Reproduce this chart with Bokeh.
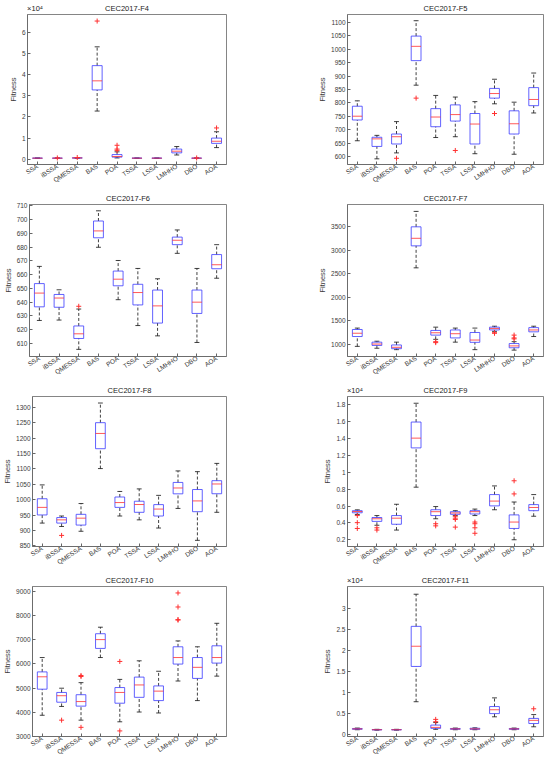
from bokeh.plotting import figure
from bokeh.layouts import column, row
from bokeh.models import FixedTicker, NumeralTickFormatter, LinearAxis, ColumnDataSource
from bokeh.embed import file_html
from bokeh.resources import INLINE

algorithms = ["SSA", "iBSSA", "QMESSA", "BAS", "POA", "TSSA", "LSSA", "LMHHO", "DBO", "AOA"]

# ---------------- F4 (x10^4) ----------------
F4_lo  = [0.045, 0.045, 0.05, 2.28, 0.06, 0.045, 0.045, 0.20, 0.045, 0.55]
F4_q1  = [0.048, 0.048, 0.055, 3.28, 0.10, 0.048, 0.048, 0.30, 0.048, 0.75]
F4_med = [0.05, 0.05, 0.06, 3.71, 0.13, 0.05, 0.05, 0.38, 0.05, 0.85]
F4_q3  = [0.052, 0.052, 0.065, 4.43, 0.22, 0.052, 0.052, 0.48, 0.052, 1.00]
F4_hi  = [0.055, 0.055, 0.07, 5.32, 0.35, 0.055, 0.055, 0.60, 0.055, 1.30]
F4_out = [[], [0.06], [0.08], [6.54], [0.42, 0.48, 0.66], [], [], [], [0.06], [1.48]]
F4_ticks = [0, 1, 2, 3, 4, 5, 6]

# ---------------- F5 ----------------
F5_lo  = [660, 593, 615, 866, 672, 675, 612, 797, 610, 763]
F5_q1  = [737, 639, 648, 957, 712, 733, 648, 818, 685, 790]
F5_med = [751, 667, 675, 1010, 748, 757, 722, 835, 723, 813]
F5_q3  = [788, 673, 685, 1048, 779, 793, 761, 854, 771, 857]
F5_hi  = [808, 680, 731, 1105, 828, 822, 805, 888, 803, 911]
F5_out = [[], [], [595], [818], [], [624], [], [761], [], []]
F5_ticks = [600, 650, 700, 750, 800, 850, 900, 950, 1000, 1050, 1100]

# ---------------- F6 ----------------
F6_lo  = [626.7, 627, 605.7, 679.9, 641.8, 623, 615.5, 675.5, 610.7, 657.4]
F6_q1  = [636.6, 636.3, 613.6, 686.8, 651.9, 638, 624.8, 681.8, 631.8, 664.3]
F6_med = [646.6, 643, 617, 691.8, 656.7, 647, 637.3, 685, 640, 667.2]
F6_q3  = [653.5, 645.6, 622.7, 699, 662.6, 653, 648.8, 687.3, 648.8, 674.6]
F6_hi  = [666, 649, 635, 706.4, 670.3, 664.5, 657, 692.5, 664.5, 681.8]
F6_out = [[], [], [637], [], [], [], [], [], [], []]
F6_ticks = [610, 620, 630, 640, 650, 660, 670, 680, 690, 700, 710]

# ---------------- F7 ----------------
F7_lo  = [950, 910, 880, 2625, 1100, 1040, 880, 1270, 870, 1160]
F7_q1  = [1160, 970, 900, 3094, 1190, 1130, 1036, 1300, 920, 1260]
F7_med = [1230, 1000, 930, 3255, 1240, 1220, 1085, 1330, 960, 1300]
F7_q3  = [1310, 1040, 980, 3500, 1290, 1300, 1246, 1360, 1010, 1350]
F7_hi  = [1340, 1060, 1040, 3829, 1360, 1340, 1340, 1380, 1050, 1380]
F7_out = [[], [], [], [], [1050, 1030], [], [], [1230, 1240], [1110, 1130, 1190], []]
F7_ticks = [1000, 1500, 2000, 2500, 3000, 3500]

# ---------------- F8 ----------------
F8_lo  = [924, 913, 897.5, 1101, 947, 934.5, 908, 971.6, 868, 959]
F8_q1  = [950.4, 924, 917.6, 1165.5, 975, 959, 947, 1019, 961, 1019.3]
F8_med = [975, 934.5, 940, 1215, 990.7, 984.3, 969.5, 1038, 996, 1051]
F8_q3  = [1003, 942, 952.5, 1250, 1008.7, 995, 984, 1056, 1033, 1061.7]
F8_hi  = [1048, 947, 987.5, 1313.8, 1026.7, 1035, 1014, 1093.4, 1091, 1117.8]
F8_out = [[], [884], [], [], [], [], [], [], [], []]
F8_ticks = [850, 900, 950, 1000, 1050, 1100, 1150, 1200, 1250, 1300]

# ---------------- F9 (x10^4) ----------------
F9_lo  = [0.50, 0.372, 0.315, 0.824, 0.449, 0.487, 0.487, 0.556, 0.20, 0.479]
F9_q1  = [0.52, 0.418, 0.384, 1.29, 0.487, 0.502, 0.506, 0.602, 0.334, 0.545]
F9_med = [0.535, 0.449, 0.456, 1.406, 0.533, 0.518, 0.533, 0.659, 0.41, 0.583]
F9_q3  = [0.545, 0.464, 0.487, 1.597, 0.556, 0.533, 0.545, 0.736, 0.495, 0.617]
F9_hi  = [0.555, 0.487, 0.621, 1.82, 0.594, 0.545, 0.564, 0.839, 0.648, 0.736]
F9_out = [[0.487, 0.403, 0.334], [0.342, 0.315], [], [], [0.39, 0.365],
          [0.479, 0.456, 0.441, 0.35], [0.41, 0.39, 0.342, 0.277], [], [0.744, 0.9], []]
F9_ticks = [0.2, 0.4, 0.6, 0.8, 1.0, 1.2, 1.4, 1.6, 1.8]

# ---------------- F10 ----------------
F10_lo  = [3878, 4242, 3675, 6264, 3608, 4012, 3972, 5293, 4484, 5495]
F10_q1  = [4956, 4417, 4255, 6641, 4376, 4619, 4484, 5994, 5401, 6034]
F10_med = [5468, 4686, 4444, 7005, 4821, 5131, 4875, 6264, 5859, 6264]
F10_q3  = [5670, 4821, 4727, 7248, 5023, 5455, 5091, 6708, 6264, 6749]
F10_hi  = [6264, 4996, 5226, 7517, 5360, 6129, 5697, 6951, 6708, 7679]
F10_out = [[], [3675], [5522, 5480, 3379], [], [6102, 3231], [], [],
           [7814, 7830, 8353, 8933], [], []]
F10_ticks = [3000, 4000, 5000, 6000, 7000, 8000, 9000]

# ---------------- F11 (x10^4) ----------------
F11_lo  = [0.12, 0.11, 0.11, 0.783, 0.13, 0.12, 0.12, 0.426, 0.12, 0.19]
F11_q1  = [0.13, 0.115, 0.115, 1.618, 0.153, 0.13, 0.13, 0.502, 0.13, 0.267]
F11_med = [0.14, 0.12, 0.12, 2.096, 0.176, 0.14, 0.14, 0.593, 0.14, 0.342]
F11_q3  = [0.15, 0.125, 0.125, 2.567, 0.23, 0.15, 0.155, 0.669, 0.15, 0.388]
F11_hi  = [0.16, 0.13, 0.13, 3.327, 0.29, 0.16, 0.165, 0.874, 0.16, 0.479]
F11_out = [[], [], [], [], [0.31, 0.365], [], [], [], [], [0.616]]
F11_ticks = [0, 0.5, 1, 1.5, 2, 2.5, 3]

FONT = "Liberation Sans"
TXT = "#3a3a3a"
EDGE = "#666666"


def make_panel(title, lo, q1, med, q3, hi, out, ticks, yr, fmt, width, height,
               bl, br, bt, bb, exponent=None):
    p = figure(width=width, height=height, x_range=(0.5, 10.5), y_range=yr,
               output_backend="svg", toolbar_location=None,
               min_border_left=bl, min_border_right=br,
               min_border_top=bt, min_border_bottom=bb)
    p.xgrid.visible = False
    p.ygrid.visible = False
    p.outline_line_color = EDGE
    p.outline_line_width = 0.8
    p.background_fill_color = "white"
    p.border_fill_color = "white"

    xs = list(range(1, len(algorithms) + 1))
    src = ColumnDataSource(dict(
        x=xs, lo=lo, q1=q1, med=med, q3=q3, hi=hi,
        left=[x - 0.25 for x in xs], right=[x + 0.25 for x in xs],
        cl=[x - 0.125 for x in xs], cr=[x + 0.125 for x in xs],
    ))
    # whiskers
    p.segment(x0="x", y0="q3", x1="x", y1="hi", source=src, line_color="#111111",
              line_width=0.8, line_dash="3 2")
    p.segment(x0="x", y0="lo", x1="x", y1="q1", source=src, line_color="#111111",
              line_width=0.8, line_dash="3 2")
    # caps
    p.segment(x0="cl", y0="hi", x1="cr", y1="hi", source=src, line_color="#111111", line_width=0.8)
    p.segment(x0="cl", y0="lo", x1="cr", y1="lo", source=src, line_color="#111111", line_width=0.8)
    # boxes
    p.quad(left="left", right="right", bottom="q1", top="q3", source=src,
           fill_color=None, line_color="#3a3aff", line_width=0.8)
    # medians
    p.segment(x0="left", y0="med", x1="right", y1="med", source=src,
              line_color="#ff3030", line_width=0.8)
    # outliers
    ox, oy = [], []
    for i, vals in enumerate(out):
        for v in vals:
            ox.append(xs[i])
            oy.append(v)
    if ox:
        p.scatter(x=ox, y=oy, marker="cross", size=5, line_color="#ff3030", line_width=1)

    # axes
    p.xaxis.ticker = FixedTicker(ticks=xs)
    p.xaxis.major_label_overrides = {x: a for x, a in zip(xs, algorithms)}
    p.xaxis.major_label_orientation = 0.57
    p.yaxis.ticker = FixedTicker(ticks=ticks)
    p.yaxis.formatter = NumeralTickFormatter(format=fmt)
    p.yaxis.axis_label = "Fitness"
    p.yaxis.axis_label_text_font = FONT
    p.yaxis.axis_label_text_font_size = "7.5px"
    p.yaxis.axis_label_text_font_style = "normal"
    p.yaxis.axis_label_text_color = TXT
    p.yaxis.axis_label_standoff = 1
    for ax in (p.xaxis[0], p.yaxis[0]):
        ax.major_label_text_font = FONT
        ax.major_label_text_font_size = "6.5px"
        ax.major_label_text_color = TXT
        ax.major_label_standoff = 2
        ax.major_tick_in = 3
        ax.major_tick_out = 0
        ax.minor_tick_in = 0
        ax.minor_tick_out = 0
        ax.major_tick_line_color = EDGE
        ax.axis_line_color = EDGE
        ax.axis_line_width = 0.8
    p.xaxis.major_label_standoff = 1

    # title (and the x10^4 exponent) as labels of an axis above the frame
    top_ticks = [5.5]
    top_labels = {5.5: title}
    if exponent:
        top_ticks = [0.88, 5.5]
        top_labels = {0.88: exponent, 5.5: title}
    tax = LinearAxis(ticker=FixedTicker(ticks=top_ticks),
                     major_label_overrides=top_labels)
    tax.major_label_text_font = FONT
    tax.major_label_text_font_size = "7.5px"
    tax.major_label_text_color = "#222222"
    tax.major_label_standoff = 2
    tax.major_tick_in = 0
    tax.major_tick_out = 0
    tax.minor_tick_in = 0
    tax.minor_tick_out = 0
    tax.axis_line_color = None
    tax.major_tick_line_color = None
    tax.minor_tick_line_color = None
    p.add_layout(tax, "above")
    return p


LW, RW = 280, 270
# (figure height, top border, bottom border) per row
rows_spec = [(190, 11, 26), (192, 12, 26), (190, 12, 26), (190, 14, 26)]

panels = [
    ("CEC2017-F4", F4_lo, F4_q1, F4_med, F4_q3, F4_hi, F4_out, F4_ticks, (-0.25, 6.85), "0", "×10⁴"),
    ("CEC2017-F5", F5_lo, F5_q1, F5_med, F5_q3, F5_hi, F5_out, F5_ticks, (572, 1128), "0", None),
    ("CEC2017-F6", F6_lo, F6_q1, F6_med, F6_q3, F6_hi, F6_out, F6_ticks, (600.5, 711), "0", None),
    ("CEC2017-F7", F7_lo, F7_q1, F7_med, F7_q3, F7_hi, F7_out, F7_ticks, (734, 3976), "0", None),
    ("CEC2017-F8", F8_lo, F8_q1, F8_med, F8_q3, F8_hi, F8_out, F8_ticks, (848, 1335), "0", None),
    ("CEC2017-F9", F9_lo, F9_q1, F9_med, F9_q3, F9_hi, F9_out, F9_ticks, (0.12, 1.9), "0.[0]", "×10⁴"),
    ("CEC2017-F10", F10_lo, F10_q1, F10_med, F10_q3, F10_hi, F10_out, F10_ticks, (3000, 9200), "0", None),
    ("CEC2017-F11", F11_lo, F11_q1, F11_med, F11_q3, F11_hi, F11_out, F11_ticks, (-0.04, 3.51), "0.[0]", "×10⁴"),
]

grid_rows = []
for r, (h, bt, bb) in enumerate(rows_spec):
    left = panels[2 * r]
    right = panels[2 * r + 1]
    pl = make_panel(*left[:10], width=LW, height=h, bl=27, br=54, bt=bt, bb=bb, exponent=left[10])
    pr = make_panel(*right[:10], width=RW, height=h, bl=67, br=7, bt=bt, bb=bb, exponent=right[10])
    grid_rows.append(row(pl, pr, spacing=0))

layout = column(*grid_rows, spacing=0)

open("out.html", "w").write(file_html(layout, INLINE))
